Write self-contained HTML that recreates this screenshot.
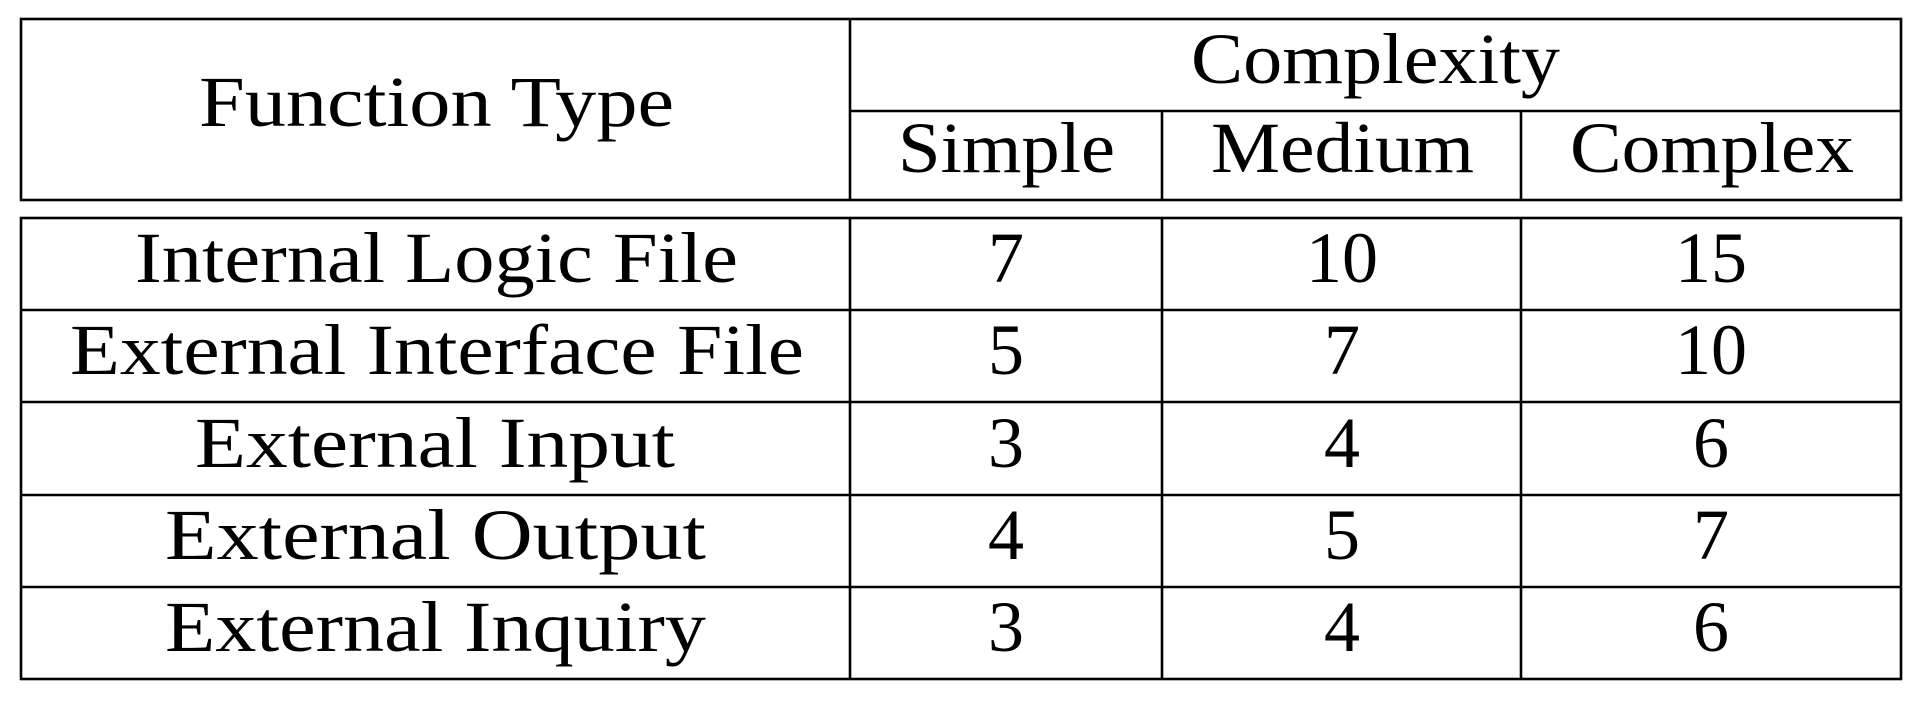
<!DOCTYPE html>
<html><head><meta charset="utf-8"><style>html,body{margin:0;padding:0;background:#fff;}svg{display:block}</style></head>
<body>
<svg width="1922" height="705" viewBox="0 0 1922 705" xmlns="http://www.w3.org/2000/svg">
<g stroke="#000" stroke-width="2.6" fill="none">
<rect x="21" y="19" width="1880" height="181"/>
<line x1="850" y1="19" x2="850" y2="200"/>
<line x1="850" y1="111" x2="1901" y2="111"/>
<line x1="1162" y1="111" x2="1162" y2="200"/>
<line x1="1521" y1="111" x2="1521" y2="200"/>
<rect x="21" y="218" width="1880" height="461"/>
<line x1="850" y1="218" x2="850" y2="679"/>
<line x1="1162" y1="218" x2="1162" y2="679"/>
<line x1="1521" y1="218" x2="1521" y2="679"/>
<line x1="21" y1="310" x2="1901" y2="310"/>
<line x1="21" y1="402" x2="1901" y2="402"/>
<line x1="21" y1="495" x2="1901" y2="495"/>
<line x1="21" y1="587" x2="1901" y2="587"/>
</g>
<g font-family="Liberation Serif, serif" font-size="72" fill="#000">
<text x="199" y="126" textLength="475" lengthAdjust="spacingAndGlyphs">Function Type</text>
<text x="1191" y="83" textLength="369" lengthAdjust="spacingAndGlyphs">Complexity</text>
<text x="898" y="172" textLength="217" lengthAdjust="spacingAndGlyphs">Simple</text>
<text x="1211" y="172" textLength="263" lengthAdjust="spacingAndGlyphs">Medium</text>
<text x="1570" y="172" textLength="284" lengthAdjust="spacingAndGlyphs">Complex</text>
<text x="135" y="282" textLength="603" lengthAdjust="spacingAndGlyphs">Internal Logic File</text>
<text x="70" y="374" textLength="734" lengthAdjust="spacingAndGlyphs">External Interface File</text>
<text x="195" y="467" textLength="480" lengthAdjust="spacingAndGlyphs">External Input</text>
<text x="165" y="559" textLength="541" lengthAdjust="spacingAndGlyphs">External Output</text>
<text x="165" y="651" textLength="541" lengthAdjust="spacingAndGlyphs">External Inquiry</text>
</g>
<g font-family="Liberation Serif, serif" font-size="72" fill="#000" text-anchor="middle">
<text x="1006" y="282">7</text><text x="1342" y="282">10</text><text x="1711" y="282">15</text>
<text x="1006" y="374">5</text><text x="1342" y="374">7</text><text x="1711" y="374">10</text>
<text x="1006" y="467">3</text><text x="1342" y="467">4</text><text x="1711" y="467">6</text>
<text x="1006" y="559">4</text><text x="1342" y="559">5</text><text x="1711" y="559">7</text>
<text x="1006" y="651">3</text><text x="1342" y="651">4</text><text x="1711" y="651">6</text>
</g>
</svg>
</body></html>
